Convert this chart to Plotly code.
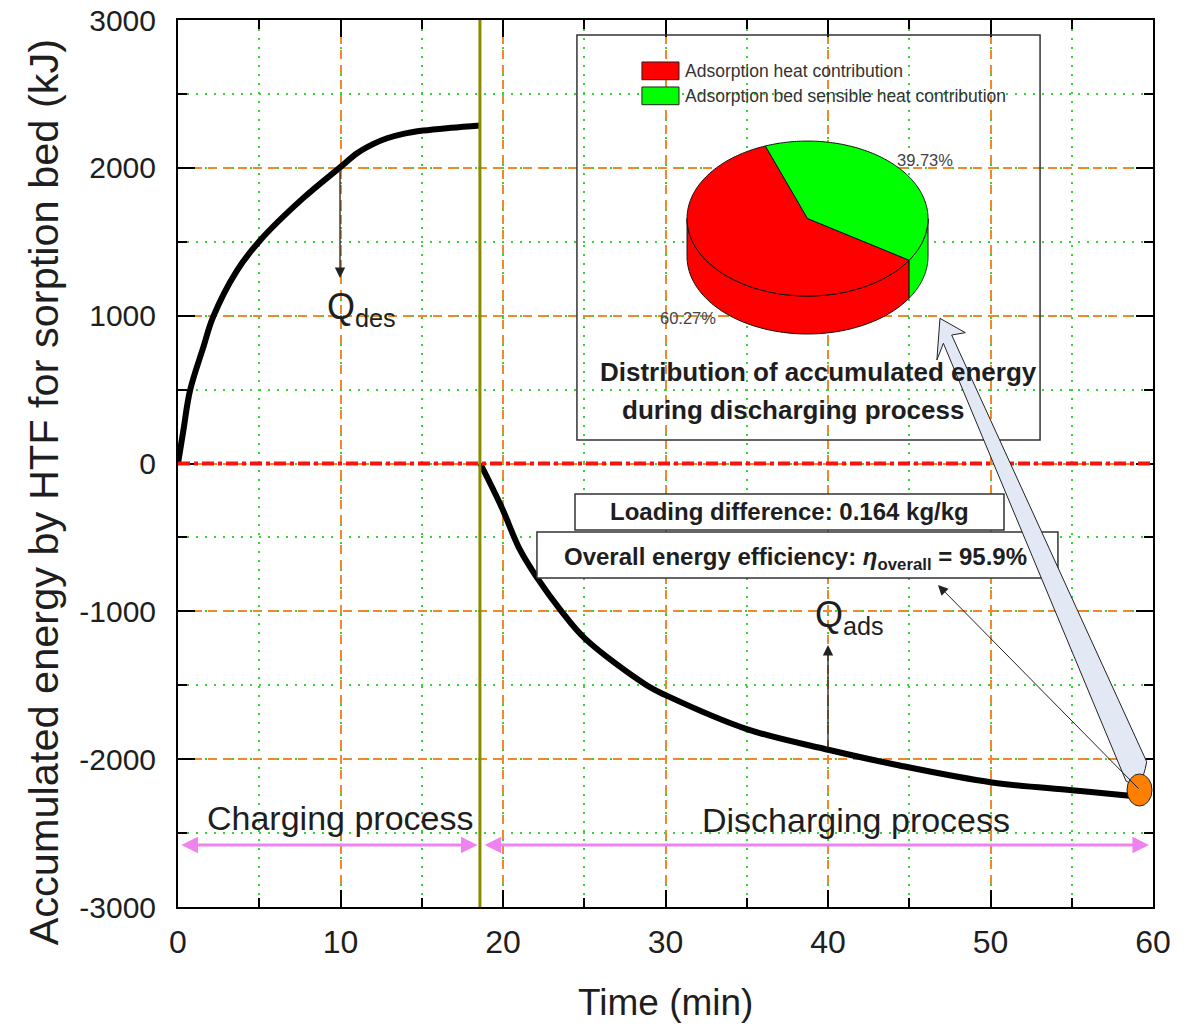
import numpy as np
import plotly.graph_objects as go

# ---- data -------------------------------------------------------------
# charging (desorption) branch: accumulated energy delivered by the HTF
t_charge = [0, 0.33, 0.74, 1.56, 2.15, 3.6, 5.05, 7.7, 9.97, 11.04, 12.0, 12.86, 13.8,
            15.1, 16.8, 18.6]
q_charge = [0, 223, 494, 787, 988, 1300, 1509, 1795, 2003, 2100, 2160, 2200, 2228,
            2252, 2271, 2287]

# discharging (adsorption) branch
t_discharge = [18.6, 19.9, 21.05, 22.07, 23.6, 25.05, 28.84, 30.07,
               35.1, 40.08, 44.4, 50.1, 55.0, 58.4, 59.4]
q_discharge = [0, -292, -585, -769, -1000, -1185, -1500, -1570,
               -1800, -1938, -2043, -2158, -2210, -2246, -2255]

t_switch = 18.58          # end of charging / start of discharging

# energy split during discharging
pie_labels = ["Adsorption heat contribution", "Adsorption bed sensible heat contribution"]
pie_values = [60.27, 39.73]
pie_colors = ["#FF0000", "#00FF00"]

loading_difference = 0.164   # kg/kg
overall_efficiency = 95.9    # %

x_ticks = [0, 10, 20, 30, 40, 50, 60]
y_ticks = [-3000, -2000, -1000, 0, 1000, 2000, 3000]

# ---- styling ------------------------------------------------------------
SANS = "Liberation Sans, Arial, DejaVu Sans, sans-serif"
TXT = "#1e1e1e"
MAJOR_GRID = "#EE8A2C"
MINOR_GRID = "#33D633"

fig = go.Figure()

for tt, qq in [(t_charge, q_charge), (t_discharge, q_discharge)]:
    fig.add_trace(go.Scatter(x=tt, y=qq, mode="lines",
                             line=dict(color="black", width=6, shape="spline", smoothing=1.0),
                             hoverinfo="skip"))

shapes = []
annotations = []

# zero line and the switch-over line
shapes.append(dict(type="line", x0=0, x1=60, y0=0, y1=0, xref="x", yref="y",
                   line=dict(color="#FF1010", width=4, dash="dashdot"), layer="above"))
shapes.append(dict(type="line", x0=t_switch, x1=t_switch, y0=-3000, y1=3000,
                   xref="x", yref="y", line=dict(color="#8B8B00", width=3), layer="above"))

# inset frame with the energy-split pie
shapes.append(dict(type="rect", x0=24.55, x1=53.05, y0=159, y1=2899, xref="x", yref="y",
                   line=dict(color="#333333", width=1.5), fillcolor="rgba(0,0,0,0)",
                   layer="above"))

# legend swatches inside the inset
for i, (lab, col) in enumerate(zip(pie_labels, pie_colors)):
    ytop = 2716 - i * 169
    shapes.append(dict(type="rect", x0=28.55, x1=30.83, y0=ytop - 120, y1=ytop,
                       xref="x", yref="y", fillcolor=col,
                       line=dict(color="#222222", width=1), layer="above"))
    annotations.append(dict(x=31.05, y=ytop - 58, xref="x", yref="y", text=lab,
                            showarrow=False, xanchor="left", yanchor="middle",
                            font=dict(family=SANS, size=17.5, color="#333333")))

# 3-D looking pie drawn as an elliptical disc
pcx, pcy, prx, pry, depth = 38.74, 1657, 7.415, 524, 257
start_angle = 110.5


def ell_pt(a_deg, drop=0.0):
    a = np.radians(a_deg)
    return pcx + prx * np.cos(a), pcy + pry * np.sin(a) - drop


def fmt(pts):
    return " L ".join(f"{x:.4f},{y:.2f}" for x, y in pts)


fracs = np.array(pie_values) / sum(pie_values)
bounds = start_angle + 360 * np.concatenate([[0], np.cumsum(fracs)])

# side walls (front half only: 180..360 deg)
for k in range(len(pie_values)):
    a0, a1 = bounds[k], bounds[k + 1]
    for off in (0, 360):
        lo, hi = max(a0, 180 + off), min(a1, 360 + off)
        if hi > lo:
            arc = np.linspace(lo, hi, 80)
            top = [ell_pt(a) for a in arc]
            bot = [ell_pt(a, depth) for a in arc[::-1]]
            shapes.append(dict(type="path", xref="x", yref="y",
                               path="M " + fmt(top + bot) + " Z",
                               fillcolor=pie_colors[k],
                               line=dict(color="#111111", width=1), layer="above"))
# top face sectors
for k in range(len(pie_values)):
    arc = np.linspace(bounds[k], bounds[k + 1], 160)
    pts = [(pcx, pcy)] + [ell_pt(a) for a in arc]
    shapes.append(dict(type="path", xref="x", yref="y",
                       path="M " + fmt(pts) + " Z", fillcolor=pie_colors[k],
                       line=dict(color="#111111", width=1), layer="above"))

annotations.append(dict(x=45.97, y=2053, xref="x", yref="y",
                        text=f"{pie_values[1]:.2f}%", showarrow=False,
                        font=dict(family=SANS, size=16.5, color="#444444")))
annotations.append(dict(x=31.38, y=984, xref="x", yref="y",
                        text=f"{pie_values[0]:.2f}%", showarrow=False,
                        font=dict(family=SANS, size=16.5, color="#444444")))
annotations.append(dict(x=39.4, y=619, xref="x", yref="y",
                        text="<b>Distribution of accumulated energy</b>", showarrow=False,
                        font=dict(family=SANS, size=26, color=TXT)))
annotations.append(dict(x=37.85, y=362, xref="x", yref="y",
                        text="<b>during discharging process</b>", showarrow=False,
                        font=dict(family=SANS, size=26, color=TXT)))

# result boxes
shapes.append(dict(type="rect", x0=24.43, x1=50.83, y0=-450, y1=-206, xref="x", yref="y",
                   fillcolor="white", line=dict(color="#333333", width=1.5), layer="above"))
shapes.append(dict(type="rect", x0=22.09, x1=54.15, y0=-775, y1=-463, xref="x", yref="y",
                   fillcolor="white", line=dict(color="#333333", width=1.5), layer="above"))
annotations.append(dict(x=37.66, y=-328, xref="x", yref="y",
                        text=f"<b>Loading difference: {loading_difference} kg/kg</b>",
                        showarrow=False, font=dict(family=SANS, size=24, color=TXT)))
annotations.append(dict(x=38.03, y=-640, xref="x", yref="y",
                        text=f"<b>Overall energy efficiency: <i>η</i><sub>overall</sub> = {overall_efficiency}%</b>",
                        showarrow=False, font=dict(family=SANS, size=24, color=TXT)))

# wide callout arrow from the end of discharging to the inset
shapes.append(dict(type="path", xref="x", yref="y",
                   path=("M 46.89,982 L 48.45,885 L 47.61,869 L 59.61,-2017 "
                         "Q 59.32,-2222 58.34,-2148 L 47.10,813 L 46.70,700 Z"),
                   fillcolor="#E2E9F5", line=dict(color="#222222", width=1), layer="above"))
# end-of-process marker
shapes.append(dict(type="circle", xref="x", yref="y", x0=58.40, x1=59.94, y0=-2317, y1=-2100,
                   fillcolor="#FF8000", line=dict(color="#222222", width=1), layer="above"))

# thin pointer to the efficiency box
annotations.append(dict(x=46.77, y=-822, ax=59.2, ay=-2209, xref="x", yref="y",
                        axref="x", ayref="y", text="", showarrow=True, arrowhead=2,
                        arrowsize=2, arrowwidth=1, arrowcolor="#222222"))

# Q_des / Q_ads markers
annotations.append(dict(x=9.97, y=1255, ax=9.97, ay=1985, xref="x", yref="y",
                        axref="x", ayref="y", text="", showarrow=True, arrowhead=2,
                        arrowsize=1.6, arrowwidth=1.3, arrowcolor="#222222"))
annotations.append(dict(x=40.0, y=-1228, ax=40.0, ay=-1938, xref="x", yref="y",
                        axref="x", ayref="y", text="", showarrow=True, arrowhead=2,
                        arrowsize=1.6, arrowwidth=1.3, arrowcolor="#222222"))
annotations.append(dict(x=9.05, y=1215, xref="x", yref="y", text="Q<sub>des</sub>",
                        showarrow=False, xanchor="left", yanchor="top",
                        font=dict(family=SANS, size=36, color=TXT)))
annotations.append(dict(x=39.1, y=-870, xref="x", yref="y", text="Q<sub>ads</sub>",
                        showarrow=False, xanchor="left", yanchor="top",
                        font=dict(family=SANS, size=36, color=TXT)))

# process spans
for x0, x1 in [(0.12, t_switch - 0.15), (t_switch + 0.2, 59.75)]:
    annotations.append(dict(x=x1, y=-2580, ax=x0, ay=-2580, xref="x", yref="y",
                            axref="x", ayref="y", text="", showarrow=True,
                            arrowside="end+start", arrowhead=2, startarrowhead=2,
                            arrowsize=1.1, startarrowsize=1.1, arrowwidth=3,
                            arrowcolor="#EE82EE"))
annotations.append(dict(x=9.97, y=-2398, xref="x", yref="y", text="Charging process",
                        showarrow=False, font=dict(family=SANS, size=34, color=TXT)))
annotations.append(dict(x=41.72, y=-2411, xref="x", yref="y", text="Discharging process",
                        showarrow=False, font=dict(family=SANS, size=34, color=TXT)))

# axis titles
annotations.append(dict(x=0.5005, y=-0.108, xref="paper", yref="paper", text="Time (min)",
                        xanchor="center", yanchor="middle",
                        showarrow=False, font=dict(family=SANS, size=37, color=TXT)))
annotations.append(dict(x=-0.138, y=0.468, xref="paper", yref="paper",
                        text="Accumulated energy by HTF for sorption bed (kJ)",
                        textangle=-90, showarrow=False, xanchor="center", yanchor="middle",
                        font=dict(family=SANS, size=41.5, color=TXT)))

axis_common = dict(showline=True, linecolor="black", linewidth=2, mirror="allticks",
                   ticks="inside", ticklen=17, tickwidth=2, tickcolor="black",
                   showgrid=True, gridcolor=MAJOR_GRID, gridwidth=1.5, griddash="9px,6px",
                   zeroline=False, automargin=False)

fig.update_layout(
    width=1195, height=1027,
    margin=dict(l=178, r=42, t=20, b=120, autoexpand=False),
    paper_bgcolor="white", plot_bgcolor="white",
    showlegend=False,
    shapes=shapes, annotations=annotations,
    xaxis=dict(range=[0, 60], tickvals=x_ticks, ticktext=[str(v) for v in x_ticks],
               tickfont=dict(family=SANS, size=32, color=TXT), ticklabelstandoff=6,
               minor=dict(dtick=5, ticklen=9, tickwidth=2, tickcolor="black", ticks="inside",
                          showgrid=True, gridcolor=MINOR_GRID, gridwidth=2,
                          griddash="2px,7px"),
               **axis_common),
    yaxis=dict(range=[-3000, 3000], tickvals=y_ticks, ticktext=[str(v) for v in y_ticks],
               tickfont=dict(family=SANS, size=30, color=TXT), ticklabelstandoff=14,
               minor=dict(dtick=500, ticklen=9, tickwidth=2, tickcolor="black", ticks="inside",
                          showgrid=True, gridcolor=MINOR_GRID, gridwidth=2,
                          griddash="2px,7px"),
               **axis_common),
)

fig.write_html("out.html")
